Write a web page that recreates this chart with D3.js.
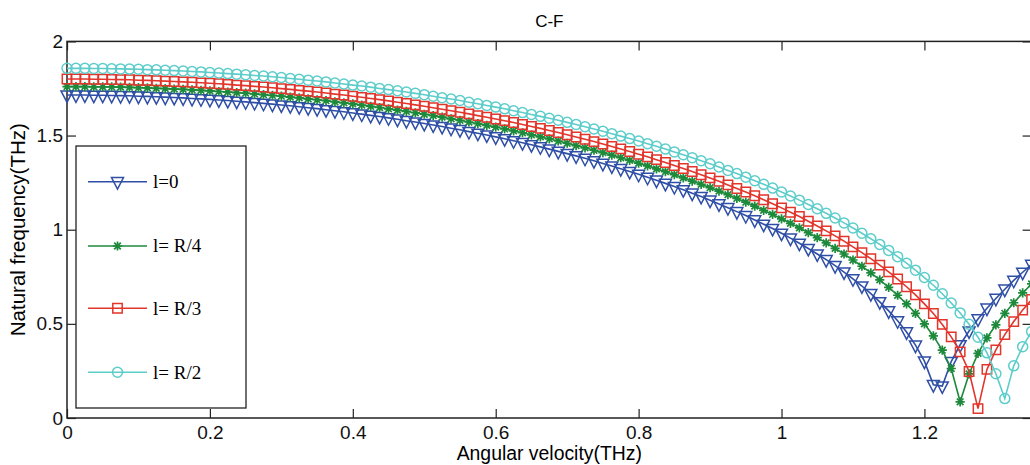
<!DOCTYPE html>
<html>
<head>
<meta charset="utf-8">
<script src="https://cdn.jsdelivr.net/npm/d3@7"></script>
<style>
  body { margin: 0; background: #fff; }
  svg { display: block; }
  .tick text { font-family: "Liberation Sans", Arial, sans-serif; font-size: 19px; fill: #111; }
  .tick line { stroke: #222; stroke-width: 1.2; }
</style>
</head>
<body>
<svg id="chart" width="1030" height="465"></svg>
<script>
// angular velocity samples (THz)
const omega = [
  0, 0.0125, 0.025, 0.0375, 0.05, 0.0625, 0.075, 0.0875, 0.1, 0.1125,
  0.125, 0.1375, 0.15, 0.1625, 0.175, 0.1875, 0.2, 0.2125, 0.225, 0.2375,
  0.25, 0.2625, 0.275, 0.2875, 0.3, 0.3125, 0.325, 0.3375, 0.35, 0.3625,
  0.375, 0.3875, 0.4, 0.4125, 0.425, 0.4375, 0.45, 0.4625, 0.475, 0.4875,
  0.5, 0.5125, 0.525, 0.5375, 0.55, 0.5625, 0.575, 0.5875, 0.6, 0.6125,
  0.625, 0.6375, 0.65, 0.6625, 0.675, 0.6875, 0.7, 0.7125, 0.725, 0.7375,
  0.75, 0.7625, 0.775, 0.7875, 0.8, 0.8125, 0.825, 0.8375, 0.85, 0.8625,
  0.875, 0.8875, 0.9, 0.9125, 0.925, 0.9375, 0.95, 0.9625, 0.975, 0.9875,
  1, 1.0125, 1.025, 1.0375, 1.05, 1.0625, 1.075, 1.0875, 1.1, 1.1125,
  1.125, 1.1375, 1.15, 1.1625, 1.175, 1.1875, 1.2, 1.2125, 1.225, 1.2375,
  1.25, 1.2625, 1.275, 1.2875, 1.3, 1.3125, 1.325, 1.3375, 1.35
];

// natural frequency (THz) for each case
const freqL0 = [
  1.715, 1.715, 1.715, 1.714, 1.714, 1.713, 1.712, 1.711, 1.709, 1.708,
  1.706, 1.704, 1.702, 1.700, 1.697, 1.695, 1.692, 1.689, 1.686, 1.682,
  1.679, 1.675, 1.671, 1.667, 1.662, 1.658, 1.653, 1.648, 1.643, 1.637,
  1.632, 1.626, 1.620, 1.614, 1.607, 1.601, 1.594, 1.587, 1.579, 1.572,
  1.564, 1.556, 1.548, 1.539, 1.531, 1.521, 1.512, 1.503, 1.493, 1.483,
  1.472, 1.462, 1.451, 1.440, 1.428, 1.416, 1.404, 1.392, 1.379, 1.366,
  1.352, 1.338, 1.324, 1.309, 1.294, 1.278, 1.263, 1.246, 1.229, 1.212,
  1.194, 1.176, 1.157, 1.137, 1.117, 1.096, 1.075, 1.052, 1.029, 1.006,
  0.981, 0.955, 0.928, 0.900, 0.871, 0.841, 0.809, 0.775, 0.739, 0.701,
  0.660, 0.617, 0.569, 0.516, 0.457, 0.387, 0.302, 0.177, 0.170, 0.300,
  0.389, 0.462, 0.526, 0.583, 0.635, 0.684, 0.731, 0.774, 0.816
];
const freqR4 = [
  1.760, 1.760, 1.760, 1.759, 1.759, 1.758, 1.757, 1.756, 1.754, 1.753,
  1.751, 1.749, 1.747, 1.745, 1.743, 1.740, 1.737, 1.734, 1.731, 1.728,
  1.725, 1.721, 1.717, 1.713, 1.709, 1.704, 1.700, 1.695, 1.690, 1.685,
  1.679, 1.674, 1.668, 1.662, 1.655, 1.649, 1.642, 1.635, 1.628, 1.621,
  1.613, 1.606, 1.598, 1.589, 1.581, 1.572, 1.563, 1.554, 1.545, 1.535,
  1.525, 1.515, 1.504, 1.493, 1.482, 1.471, 1.459, 1.447, 1.435, 1.422,
  1.409, 1.396, 1.382, 1.368, 1.353, 1.339, 1.323, 1.308, 1.292, 1.275,
  1.258, 1.241, 1.223, 1.205, 1.186, 1.166, 1.146, 1.125, 1.103, 1.081,
  1.058, 1.034, 1.010, 0.984, 0.958, 0.930, 0.901, 0.871, 0.839, 0.806,
  0.771, 0.734, 0.694, 0.652, 0.606, 0.556, 0.500, 0.436, 0.360, 0.263,
  0.086, 0.234, 0.343, 0.425, 0.495, 0.556, 0.612, 0.664, 0.712
];
const freqR3 = [
  1.800, 1.800, 1.800, 1.799, 1.799, 1.798, 1.797, 1.796, 1.794, 1.793,
  1.791, 1.789, 1.787, 1.785, 1.783, 1.780, 1.778, 1.775, 1.772, 1.768,
  1.765, 1.761, 1.758, 1.754, 1.749, 1.745, 1.740, 1.736, 1.731, 1.726,
  1.720, 1.715, 1.709, 1.703, 1.697, 1.691, 1.684, 1.677, 1.670, 1.663,
  1.656, 1.648, 1.640, 1.632, 1.624, 1.615, 1.606, 1.597, 1.588, 1.579,
  1.569, 1.559, 1.548, 1.538, 1.527, 1.516, 1.504, 1.492, 1.480, 1.468,
  1.455, 1.442, 1.429, 1.415, 1.401, 1.387, 1.372, 1.357, 1.341, 1.325,
  1.309, 1.292, 1.275, 1.257, 1.238, 1.219, 1.200, 1.180, 1.159, 1.138,
  1.116, 1.093, 1.070, 1.045, 1.020, 0.994, 0.967, 0.939, 0.909, 0.878,
  0.846, 0.812, 0.776, 0.738, 0.697, 0.654, 0.606, 0.555, 0.497, 0.431,
  0.351, 0.247, 0.050, 0.258, 0.362, 0.443, 0.512, 0.573, 0.629
];
const freqR2 = [
  1.857, 1.857, 1.857, 1.856, 1.856, 1.855, 1.854, 1.853, 1.852, 1.850,
  1.849, 1.847, 1.845, 1.843, 1.840, 1.838, 1.835, 1.832, 1.829, 1.826,
  1.823, 1.819, 1.816, 1.812, 1.808, 1.803, 1.799, 1.794, 1.790, 1.785,
  1.779, 1.774, 1.768, 1.763, 1.757, 1.750, 1.744, 1.738, 1.731, 1.724,
  1.717, 1.709, 1.701, 1.694, 1.686, 1.677, 1.669, 1.660, 1.651, 1.642,
  1.632, 1.622, 1.612, 1.602, 1.592, 1.581, 1.570, 1.559, 1.547, 1.535,
  1.523, 1.510, 1.497, 1.484, 1.471, 1.457, 1.443, 1.428, 1.413, 1.398,
  1.382, 1.366, 1.350, 1.333, 1.315, 1.298, 1.279, 1.260, 1.241, 1.221,
  1.200, 1.179, 1.157, 1.134, 1.111, 1.087, 1.062, 1.036, 1.009, 0.981,
  0.952, 0.922, 0.890, 0.857, 0.822, 0.785, 0.746, 0.705, 0.660, 0.611,
  0.558, 0.498, 0.429, 0.346, 0.235, 0.103, 0.277, 0.379, 0.459
];

const seriesNames = ['l=0', 'l= R/4', 'l= R/3', 'l= R/2'];
const xTicks = [0, 0.2, 0.4, 0.6, 0.8, 1, 1.2];
const yTicks = [0, 0.5, 1, 1.5, 2];

const series = [
  { name: seriesNames[0], values: freqL0, color: '#2f4fa6', marker: 'tri' },
  { name: seriesNames[1], values: freqR4, color: '#1d8a3b', marker: 'star' },
  { name: seriesNames[2], values: freqR3, color: '#e2352b', marker: 'square' },
  { name: seriesNames[3], values: freqR2, color: '#5ccdca', marker: 'circle' },
];

const markerPath = {
  tri: 'M-6,-4.1L6,-4.1L0,7.4Z',
  square: 'M-4.7,-4.7H4.7V4.7H-4.7Z',
  circle: d3.symbol(d3.symbolCircle, Math.PI * 5 * 5)(),
  star: 'M-4.6,0H4.6M0,-4.6V4.6M-3.3,-3.3L3.3,3.3M-3.3,3.3L3.3,-3.3',
};

const svg = d3.select('#chart');
const x = d3.scaleLinear().domain([0, 1.35]).range([67, 1031.6]);
const y = d3.scaleLinear().domain([0, 2]).range([418, 41.4]);

// axes (ticks inward on all four sides, matlab box)
svg.append('g')
  .attr('transform', `translate(0,${y(0)})`)
  .call(d3.axisBottom(x).tickValues(xTicks).tickSize(-9).tickPadding(8).tickFormat(d3.format('')))
  .call(g => g.select('.domain').remove());
svg.append('g')
  .attr('transform', `translate(0,${y(2)})`)
  .call(d3.axisTop(x).tickValues(xTicks).tickSize(-9).tickFormat(''))
  .call(g => g.select('.domain').remove());
svg.append('g')
  .attr('transform', `translate(${x(0)},0)`)
  .call(d3.axisLeft(y).tickValues(yTicks).tickSize(-9).tickPadding(4).tickFormat(d3.format('')))
  .call(g => g.select('.domain').remove());
svg.append('g')
  .attr('transform', `translate(${x(1.35)},0)`)
  .call(d3.axisRight(y).tickValues(yTicks).tickSize(-9).tickFormat(''))
  .call(g => g.select('.domain').remove());

svg.append('rect')
  .attr('x', x(0)).attr('y', y(2))
  .attr('width', x(1.35) - x(0)).attr('height', y(0) - y(2))
  .attr('fill', 'none').attr('stroke', '#222').attr('stroke-width', 1.5);

// curves
const line = d3.line().x((d, i) => x(omega[i])).y(d => y(d));

series.forEach(s => {
  const g = svg.append('g');
  g.append('path')
    .attr('d', line(s.values))
    .attr('fill', 'none')
    .attr('stroke', s.color)
    .attr('stroke-width', 1.6);
  g.selectAll('path.mk')
    .data(s.values)
    .enter()
    .append('path')
    .attr('class', 'mk')
    .attr('d', markerPath[s.marker])
    .attr('transform', (d, i) => `translate(${x(omega[i])},${y(d)})`)
    .attr('fill', 'none')
    .attr('stroke', s.color)
    .attr('stroke-width', s.marker === 'star' ? 1.7 : 1.5);
});

// labels
svg.append('text')
  .attr('x', (x(0) + x(1.35)) / 2).attr('y', 27)
  .attr('text-anchor', 'middle')
  .style('font-family', '"Liberation Sans", Arial, sans-serif')
  .style('font-size', '17px')
  .text('C-F');

svg.append('text')
  .attr('x', (x(0) + x(1.35)) / 2).attr('y', 460)
  .attr('text-anchor', 'middle')
  .style('font-family', '"Liberation Sans", Arial, sans-serif')
  .style('font-size', '19.4px')
  .text('Angular velocity(THz)');

svg.append('text')
  .attr('transform', `translate(25,${(y(0) + y(2)) / 2}) rotate(-90)`)
  .attr('text-anchor', 'middle')
  .style('font-family', '"Liberation Sans", Arial, sans-serif')
  .style('font-size', '20.5px')
  .text('Natural frequency(THz)');

// legend
const legend = svg.append('g');
legend.append('rect')
  .attr('x', 76).attr('y', 146).attr('width', 170).attr('height', 262)
  .attr('fill', '#fff').attr('stroke', '#222').attr('stroke-width', 1.3);

const rowY = [181.7, 246, 308.3, 372.3];
series.forEach((s, i) => {
  const row = legend.append('g').attr('transform', `translate(0,${rowY[i]})`);
  row.append('line')
    .attr('x1', 88).attr('x2', 147)
    .attr('stroke', s.color).attr('stroke-width', 1.6);
  row.append('path')
    .attr('d', markerPath[s.marker])
    .attr('transform', 'translate(117.5,0)')
    .attr('fill', 'none').attr('stroke', s.color)
    .attr('stroke-width', s.marker === 'star' ? 1.7 : 1.5);
  row.append('text')
    .attr('x', 153).attr('dy', '0.34em')
    .style('font-family', '"Liberation Serif", "Times New Roman", serif')
    .style('font-size', '19px')
    .text(s.name);
});
</script>
</body>
</html>
